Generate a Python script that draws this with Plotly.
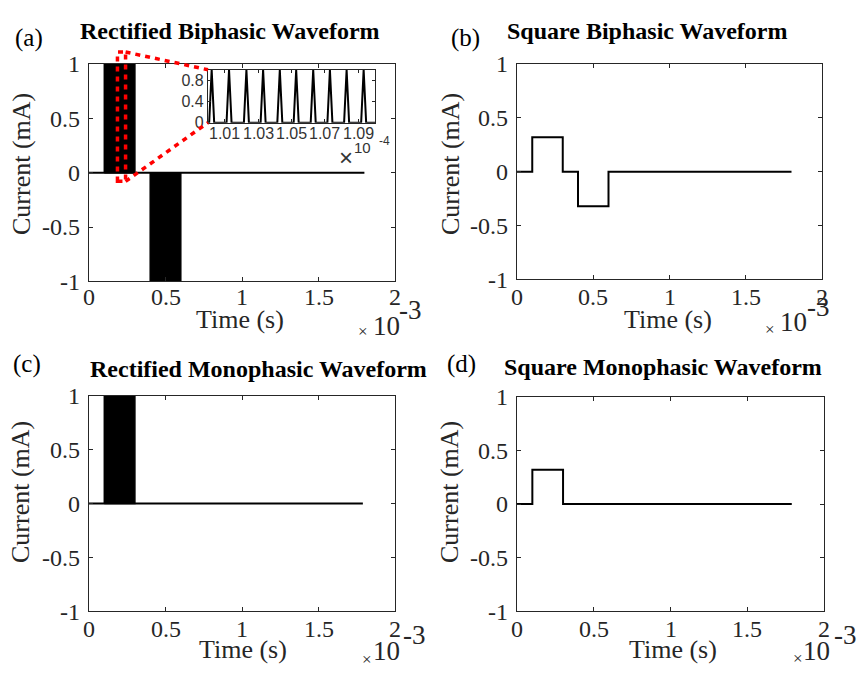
import plotly.graph_objects as go

W, H = 861, 681

# ---------------- data (time in ms, current in mA) ----------------
# (a) rectified biphasic: high-frequency carrier bursts, drawn as their envelopes
rb_burst_start = [0.1, 0.4]
rb_burst_end = [0.3, 0.6]
rb_burst_peak = [1.0, -1.0]
rb_end = 1.8

# (b) square biphasic (edges of a step waveform)
sb_t = [0, 0.1, 0.3, 0.4, 0.6, 1.8]
sb_i = [0, 0.32, 0, -0.32, 0, 0]

# (c) rectified monophasic
rm_burst_start = [0.1]
rm_burst_end = [0.3]
rm_burst_peak = [1.0]
rm_end = 1.79

# (d) square monophasic
sm_t = [0, 0.1, 0.3, 1.79]
sm_i = [0, 0.32, 0, 0]

# inset of (a): individual carrier lobes between 0.100 and 0.110 ms
inset_peak_t = [0.10022, 0.10126, 0.10230, 0.10330, 0.10430,
                0.10528, 0.10630, 0.10730, 0.10830, 0.10932]
inset_peak_i = [1, 1, 1, 1, 1, 1, 1, 1, 1, 1]
lobe_half_width = 0.00015
inset_t_range = [0.100, 0.110]
inset_i_range = [0, 1]

# zoom marker drawn on (a)
zoom_t = [0.186, 0.239]
zoom_i = [-0.08, 1.11]

# ticks
x_ticks = [0, 0.5, 1, 1.5, 2]
x_ticktext = ["0", "0.5", "1", "1.5", "2"]
y_ticks = [-1, -0.5, 0, 0.5, 1]
y_ticktext = ["-1", "-0.5", "0", "0.5", "1"]
inset_x_ticks = [0.101, 0.103, 0.105, 0.107, 0.109]
inset_x_ticktext = ["1.01", "1.03", "1.05", "1.07", "1.09"]
inset_y_ticks = [0, 0.4, 0.8]
inset_y_ticktext = ["0", "0.4", "0.8"]

titles = ["Rectified Biphasic Waveform", "Square Biphasic Waveform",
          "Rectified Monophasic Waveform", "Square Monophasic Waveform"]
panel_tags = ["(a)", "(b)", "(c)", "(d)"]


# ---------------- layout geometry (pixels) ----------------
def px(p):
    return p / W


def py(p):
    return 1 - p / H


def xdom(a, b):
    return [px(a), px(b)]


def ydom(top, bottom):
    return [py(bottom), py(top)]


PANELS = {
    "a": ((89, 395), (53, 279)),
    "b": ((517, 822), (53, 277)),
    "c": ((89, 395), (398, 622)),
    "d": ((517, 824), (399, 622)),
}
XLABEL_ROW = {"a": 295, "b": 295, "c": 640, "d": 640}
INSET = ((208, 375), (59, 114))

SERIF = "Liberation Serif"
SANS = "Liberation Sans"
AX = "#262626"
INSET_TXT = "#333333"

fig = go.Figure()

line_style = dict(color="black", width=2)


def add_bursts(starts, ends, peaks, xa, ya):
    for s, e, p in zip(starts, ends, peaks):
        fig.add_trace(go.Scatter(
            x=[s, s, e, e, s], y=[0, p, p, 0, 0], mode="lines",
            fill="toself", fillcolor="black",
            line=dict(color="black", width=1.5),
            xaxis=xa, yaxis=ya, showlegend=False, hoverinfo="skip"))


# (a)
fig.add_trace(go.Scatter(x=[0, rb_end], y=[0, 0], mode="lines", line=line_style,
                         xaxis="x", yaxis="y", showlegend=False))
add_bursts(rb_burst_start, rb_burst_end, rb_burst_peak, "x", "y")

# (b)
fig.add_trace(go.Scatter(x=sb_t, y=sb_i, mode="lines", line=dict(line_style, shape="hv"),
                         xaxis="x2", yaxis="y2", showlegend=False))

# (c)
fig.add_trace(go.Scatter(x=[0, rm_end], y=[0, 0], mode="lines", line=line_style,
                         xaxis="x3", yaxis="y3", showlegend=False))
add_bursts(rm_burst_start, rm_burst_end, rm_burst_peak, "x3", "y3")

# (d)
fig.add_trace(go.Scatter(x=sm_t, y=sm_i, mode="lines", line=dict(line_style, shape="hv"),
                         xaxis="x4", yaxis="y4", showlegend=False))

# inset lobes
ins_x = [inset_t_range[0]]
ins_y = [0]
for t, v in zip(inset_peak_t, inset_peak_i):
    ins_x += [t - lobe_half_width, t, t + lobe_half_width]
    ins_y += [0, v, 0]
ins_x.append(inset_t_range[1])
ins_y.append(0)
fig.add_trace(go.Scatter(x=ins_x, y=ins_y, mode="lines",
                         line=dict(color="black", width=2),
                         xaxis="x5", yaxis="y5", showlegend=False))


def main_x(dom, anchor):
    return dict(domain=xdom(*dom), range=[0, 2], tickvals=x_ticks, showticklabels=False,
                ticks="inside", ticklen=4, tickwidth=1, tickcolor=AX,
                showline=True, linecolor=AX, linewidth=1.3, mirror="ticks",
                showgrid=False, zeroline=False, anchor=anchor)


def main_y(dom, anchor):
    return dict(domain=ydom(*dom), range=[-1, 1], tickvals=y_ticks, ticktext=y_ticktext,
                ticks="inside", ticklen=4, tickwidth=1, tickcolor=AX,
                showline=True, linecolor=AX, linewidth=1.3, mirror="ticks",
                showgrid=False, zeroline=False, anchor=anchor, ticklabelstandoff=3,
                tickfont=dict(family=SERIF, size=24, color=AX))


layout = dict(width=W, height=H, margin=dict(l=0, r=0, t=0, b=0, pad=0),
              paper_bgcolor="white", plot_bgcolor="rgba(0,0,0,0)", showlegend=False)
for i, key in enumerate("abcd"):
    sfx = "" if i == 0 else str(i + 1)
    xd, yd = PANELS[key]
    layout["xaxis" + sfx] = main_x(xd, "y" + sfx)
    layout["yaxis" + sfx] = main_y(yd, "x" + sfx)

layout["xaxis5"] = dict(domain=xdom(*INSET[0]), range=inset_t_range,
                        tickvals=inset_x_ticks, showticklabels=False,
                        ticks="inside", ticklen=3, tickcolor=AX, showline=True,
                        linecolor=AX, linewidth=1.3, mirror="ticks", showgrid=False,
                        zeroline=False, anchor="y5")
layout["yaxis5"] = dict(domain=ydom(*INSET[1]), range=inset_i_range,
                        tickvals=inset_y_ticks, ticktext=inset_y_ticktext,
                        ticks="inside", ticklen=3, tickcolor=AX, showline=True,
                        linecolor=AX, linewidth=1.3, mirror="ticks", showgrid=False,
                        zeroline=False, anchor="x5",
                        tickfont=dict(family=SANS, size=16, color=INSET_TXT))
fig.update_layout(**layout)

# x tick labels, placed on each axis' own scale
for i, key in enumerate("abcd"):
    xref = "x" if i == 0 else f"x{i + 1}"
    for tv, tt in zip(x_ticks, x_ticktext):
        fig.add_annotation(text=tt, x=tv, xref=xref, y=py(XLABEL_ROW[key]), yref="paper",
                           showarrow=False, xanchor="center", yanchor="middle",
                           font=dict(family=SERIF, size=24, color=AX))

for tv, tt in zip(inset_x_ticks, inset_x_ticktext):
    fig.add_annotation(text=tt, x=tv, xref="x5", y=py(INSET[1][1] + 11), yref="paper",
                       showarrow=False, xanchor="center", yanchor="middle",
                       font=dict(family=SANS, size=16, color=INSET_TXT))

# ---------------- zoom marker (red dotted) ----------------
(ax0, ax1), (ay0, ay1) = PANELS["a"]


def a_to_px(t, v):
    xp = ax0 + (t - 0) / 2 * (ax1 - ax0)
    yp = ay1 - (v + 1) / 2 * (ay1 - ay0)
    return xp, yp


zx0, zy0 = a_to_px(zoom_t[0], zoom_i[0])
zx1, zy1 = a_to_px(zoom_t[1], zoom_i[1])
red = dict(color="#ff0000", width=3.5, dash="5px,5px")
fig.add_shape(type="rect", xref="paper", yref="paper",
              x0=px(zx0), x1=px(zx1), y0=py(zy0), y1=py(zy1), line=red, layer="above")
fig.add_shape(type="line", xref="paper", yref="paper",
              x0=px(zx1), y0=py(zy1), x1=px(INSET[0][0]), y1=py(INSET[1][0]),
              line=red, layer="above")
fig.add_shape(type="line", xref="paper", yref="paper",
              x0=px(zx1), y0=py(zy0), x1=px(INSET[0][0]), y1=py(INSET[1][1]),
              line=red, layer="above")


# ---------------- text ----------------
def txt(s, x, y, size, family=SERIF, color="black", angle=0, bold=False):
    fig.add_annotation(text=f"<b>{s}</b>" if bold else s, x=px(x), y=py(y),
                       xref="paper", yref="paper", showarrow=False,
                       xanchor="center", yanchor="middle", textangle=angle,
                       font=dict(family=family, size=size, color=color))


title_pos = [(230, 19), (647, 19), (258, 370), (663, 368)]
tag_pos = [(29, 26), (465, 26), (27, 365), (461, 365)]
ytitle_pos = [(21, 157), (450, 157), (21, 498), (450, 498)]
xtitle_pos = [(240, 319), (668, 319), (243, 662), (673, 662)]
exp_pos = [((363, 331), (386, 325), (410, 309)),
           ((770, 329), (793, 321), (818, 306)),
           ((367, 672), (386, 663), (414, 647)),
           ((798, 671), (816, 663), (845, 647))]

for k in range(4):
    txt(titles[k], *title_pos[k], 24, bold=True)
    txt(panel_tags[k], *tag_pos[k], 25)
    txt("Current (mA)", *ytitle_pos[k], 26, color=AX, angle=-90)
    txt("Time (s)", *xtitle_pos[k], 26, color=AX)
    (mx, my), (tx, ty), (ex, ey) = exp_pos[k]
    txt("×", mx, my, 17, color=AX)
    txt("10", tx, ty, 27, color=AX)
    txt("-3", ex, ey, 27, color=AX)

# inset exponent
txt("×", 346, 150, 24, family=SANS, color=INSET_TXT)
txt("10", 362, 140, 15, family=SANS, color=INSET_TXT)
txt("-4", 384, 133, 12, family=SANS, color=INSET_TXT)

fig.write_html("out.html")
